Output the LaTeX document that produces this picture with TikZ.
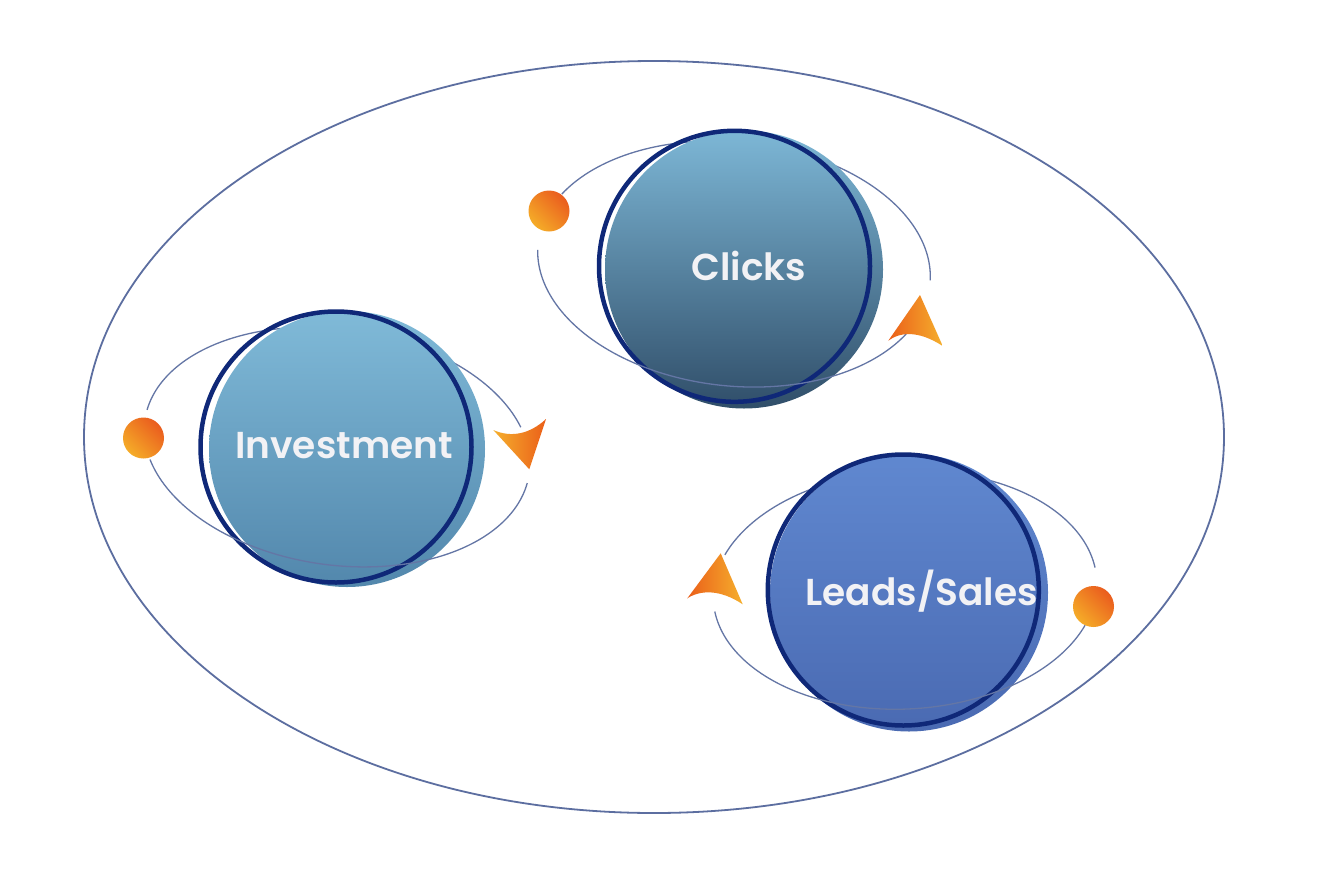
\documentclass[tikz,border=0pt]{standalone}
\usepackage{fontspec}
\newfontfamily\popsb{Poppins SemiBold}
\definecolor{bigc}{RGB}{92,110,160}
\definecolor{orbitc}{RGB}{100,118,165}
\definecolor{navy}{RGB}{15,40,120}
\definecolor{txt}{RGB}{242,242,245}
\definecolor{ballr}{RGB}{234,92,30}
\definecolor{bally}{RGB}{245,172,40}
\definecolor{aora}{RGB}{235,95,25}
\definecolor{ayel}{RGB}{245,175,45}
\definecolor{invT}{RGB}{128,186,216}
\definecolor{invM}{RGB}{120,176,208}
\definecolor{invB}{RGB}{82,135,172}
\definecolor{clkT}{RGB}{125,183,214}
\definecolor{clkM}{RGB}{44,106,154}
\definecolor{clkB}{RGB}{48,78,105}
\definecolor{ldsT}{RGB}{96,136,208}
\definecolor{ldsB}{RGB}{74,106,178}
\newcommand\orb[8][]{\draw[orbit,#1] plot[domain=#7:#8, samples=90, variable=\t]
  ({#2+#4*cos(\t)*cos(#6)-#5*sin(\t)*sin(#6)},{#3+#4*cos(\t)*sin(#6)+#5*sin(\t)*cos(#6)});}
\begin{document}
\begin{tikzpicture}[x=1pt,y=-1pt,
  orbit/.style={draw=orbitc, line width=1.3pt},
  bigring/.style={draw=bigc, line width=1.8pt},
  ring/.style={circle, draw=navy, line width=4.5pt, inner sep=0pt, minimum size=271pt},
  planetlabel/.style={text=txt, inner sep=0pt, font=\popsb\fontsize{37.5}{44}\selectfont},
  ballnode/.style={circle, inner sep=0pt, minimum size=41pt, top color=ballr, bottom color=bally, shading angle=-45}]
\fill[white] (0,0) rectangle (1317,878);
\useasboundingbox (0,0) rectangle (1317,878);
% outer ellipse
\draw[bigring] (654,437) ellipse[x radius=570, y radius=376];

% ---------- Investment ----------
\orb{337}{447}{194}{118}{8}{185}{337.5}
\shade[top color=invT, middle color=invM, bottom color=invB] (347,449) circle[radius=138pt];
\node[ring] (invring) at (336,447) {};
\orb{337}{447}{194}{118}{8}{4.5}{161}
\node[planetlabel] (inv) at (344,446) {Investment};
\node[ballnode] (invball) at (143.5,438) {};
\shade[left color=ayel, right color=aora] (493.3,430) .. controls (511,438) and (530,434) .. (546,419) -- (529.3,469.3) -- cycle;

% ---------- Clicks ----------
\orb{734}{264}{197}{122}{6}{205}{358}
\shade[top color=clkT, middle color=clkM, bottom color=clkB] (744,269.5) circle[radius=139pt];
\node[ring] (clkring) at (734.5,266.3) {};
\orb{734}{264}{197}{122}{6}{25}{177}
\node[planetlabel] (clk) at (749,266) {Clicks};
\node[ballnode] (clkball) at (549,211) {};
\shade[left color=aora, right color=ayel] (888.3,340.7) .. controls (900,332) and (918,330) .. (942.7,346) -- (920,295) -- cycle;

% ---------- Leads/Sales ----------
\orb{905}{590}{192}{119}{-3}{202}{354}
\shade[top color=ldsT, bottom color=ldsB] (909,592.5) circle[radius=139pt];
\node[ring] (ldsring) at (903.3,590) {};
\orb{905}{590}{192}{119}{-3}{22}{174.4}
\node[planetlabel] (lds) at (921.7,591) {Leads/Sales};
\node[ballnode] (ldsball) at (1093.5,606.5) {};
\shade[left color=aora, right color=ayel] (687.3,598.3) .. controls (700,590) and (720,589) .. (742.7,604.3) -- (720.7,553.3) -- cycle;
\end{tikzpicture}
\end{document}
